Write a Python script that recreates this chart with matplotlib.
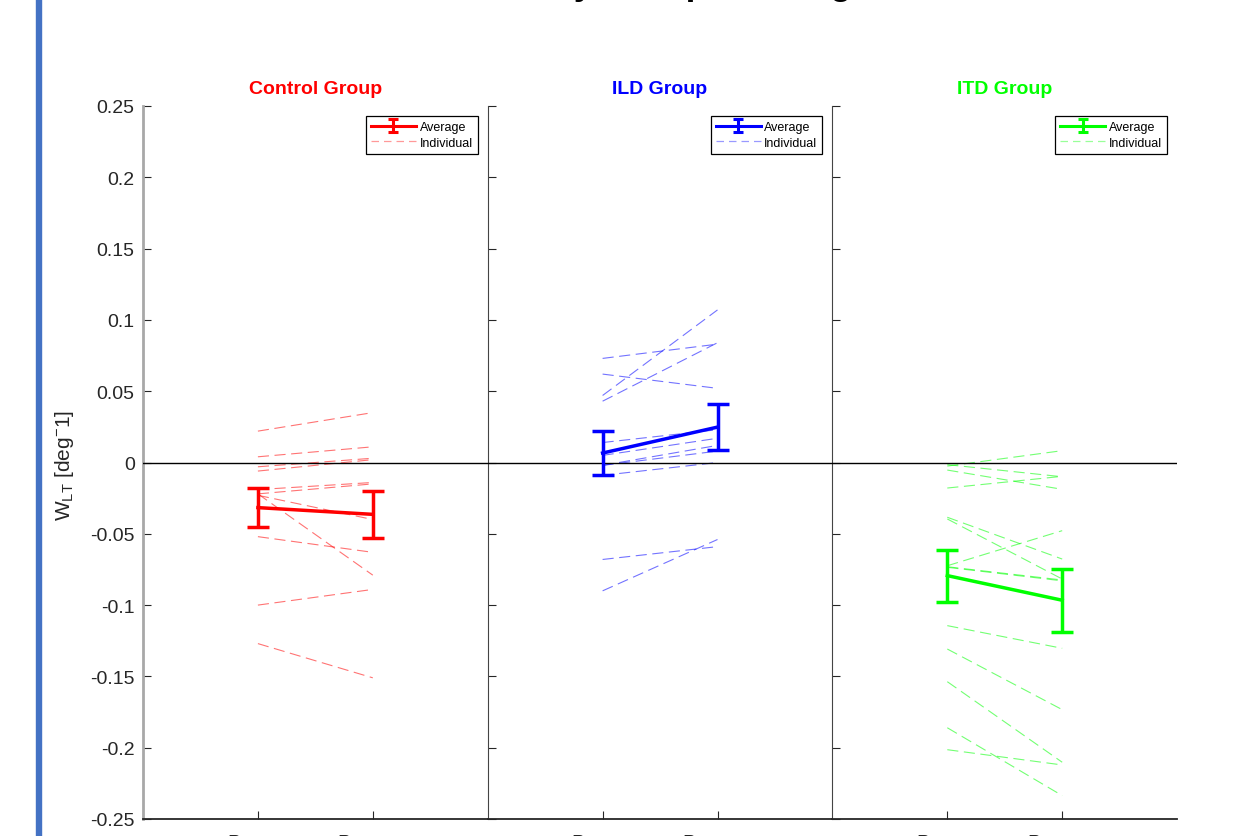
import numpy as np
import matplotlib
matplotlib.use("Agg")
import matplotlib.pyplot as plt
from matplotlib.lines import Line2D
from matplotlib.patches import Rectangle

# ---- data: per-subject W_LT values at pretest and posttest ----
groups = ["Control Group", "ILD Group", "ITD Group"]
group_colors = ["#ff0000", "#0000ff", "#00ff00"]

control_pre = [0.022, 0.004, -0.003, -0.006, -0.019, -0.022, -0.023, -0.022, -0.052, -0.100, -0.127]
control_post = [0.035, 0.011, 0.003, 0.002, -0.014, -0.015, -0.040, -0.079, -0.063, -0.089, -0.151]

ild_pre = [0.073, 0.062, 0.047, 0.043, 0.014, 0.005, -0.002, -0.002, -0.009, -0.068, -0.090]
ild_post = [0.083, 0.052, 0.107, 0.084, 0.023, 0.017, 0.012, 0.008, 0.000, -0.059, -0.054]

itd_pre = [-0.0015, -0.0025, -0.0053, -0.0179, -0.0384, -0.0396, -0.0724, -0.0731, -0.0735,
           -0.1144, -0.1308, -0.1537, -0.1860, -0.2014]
itd_post = [-0.0100, 0.0083, -0.0188, -0.0097, -0.0677, -0.0817, -0.0478, -0.0824, -0.0830,
            -0.1303, -0.1733, -0.2102, -0.2336, -0.2121]

session_labels = ["Pretest", "Posttest"]
ytick_values = [0.25, 0.2, 0.15, 0.1, 0.05, 0, -0.05, -0.1, -0.15, -0.2, -0.25]
ytick_labels = ["0.25", "0.2", "0.15", "0.1", "0.05", "0", "-0.05", "-0.1", "-0.15", "-0.2", "-0.25"]

group_data = [(control_pre, control_post), (ild_pre, ild_post), (itd_pre, itd_post)]

# ---- styling ----
plt.rcParams["font.family"] = ["Liberation Sans", "DejaVu Sans"]
plt.rcParams["mathtext.fontset"] = "custom"
plt.rcParams["mathtext.rm"] = "Liberation Sans"
plt.rcParams["mathtext.it"] = "Liberation Sans:italic"
axis_gray = "#262626"

W, H = 1246, 837
fig = plt.figure(figsize=(W / 100, H / 100), dpi=100)

ax_left = 143 / W
ax_w = 344.7 / W
ax_bottom = 17 / H
ax_h = 713 / H

x_pos = np.array([1, 2])

for i, (name, color, (pre, post)) in enumerate(zip(groups, group_colors, group_data)):
    ax = fig.add_axes([ax_left + i * ax_w, ax_bottom, ax_w, ax_h])
    pre = np.asarray(pre)
    post = np.asarray(post)

    # individual subjects
    for a, b in zip(pre, post):
        ax.plot(x_pos, [a, b], color=color, alpha=0.55, lw=0.8, ls=(0, (10, 5)))

    # group mean with standard error
    means = np.array([pre.mean(), post.mean()])
    sems = np.array([pre.std(ddof=1) / np.sqrt(len(pre)),
                     post.std(ddof=1) / np.sqrt(len(post))])
    ax.errorbar(x_pos, means, yerr=sems, color=color, lw=2.5,
                capsize=8, capthick=2.5, zorder=5)

    ax.axhline(0, color="black", lw=1.0, zorder=4)

    ax.set_xlim(0, 3)
    ax.set_ylim(-0.25, 0.25)
    ax.set_xticks(x_pos)
    ax.set_xticklabels(session_labels)
    ax.set_yticks(ytick_values)
    ax.set_yticklabels(ytick_labels)
    ax.tick_params(direction="in", length=6, width=0.8, labelsize=14,
                   colors=axis_gray, pad=6)
    ax.tick_params(axis="x", pad=11)
    if i > 0:
        ax.tick_params(axis="y", labelleft=False)

    ax.spines["top"].set_visible(False)
    ax.spines["right"].set_visible(False)
    ax.spines["bottom"].set_color(axis_gray)
    ax.spines["bottom"].set_linewidth(1.3)
    if i == 0:
        ax.spines["left"].set_color("#a8a8a8")
        ax.spines["left"].set_linewidth(2.0)
    else:
        ax.spines["left"].set_color("#444444")
        ax.spines["left"].set_linewidth(0.8)

    ax.set_title(name, color=color, fontweight="bold", fontsize=14, pad=9)

    # legend keys: a compact errorbar glyph and a pale dashed line
    avg_handle = ax.errorbar([np.nan], [np.nan], yerr=[0.01], color=color, lw=2.2,
                             capsize=3.5, capthick=2.2)
    indiv_handle = Line2D([], [], color=color, alpha=0.4, lw=0.9, ls=(0, (6, 4)))
    leg = ax.legend([avg_handle, indiv_handle], ["Average", "Individual"], loc="upper right",
                    fontsize=9, frameon=True, fancybox=False, framealpha=1,
                    edgecolor="black", borderpad=0.4, labelspacing=0.3,
                    handlelength=3.6, handletextpad=0.3, borderaxespad=0.8)
    leg.get_frame().set_linewidth(0.9)

fig.text(64 / W, 1 - 465 / H, r"W$_{\mathrm{LT}}$ [deg$^{-}$1]", rotation=90,
         ha="center", va="center", fontsize=15, color=axis_gray)

fig.text(348 / W, 1 + 5 / H, "Effect of Study Group Training", fontsize=25,
         fontweight="bold", ha="left", va="baseline", color="black")

fig.add_artist(Rectangle((36 / W, 0), 5 / W, 1, transform=fig.transFigure,
                         color="#4472c4", zorder=10))

fig.savefig("out.png", dpi=100)
